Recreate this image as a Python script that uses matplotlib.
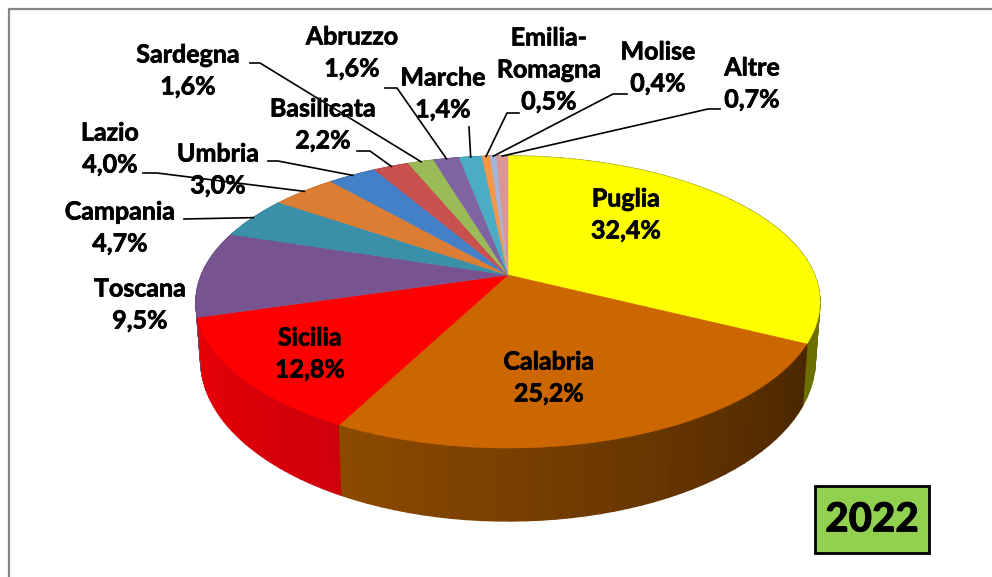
import numpy as np
import matplotlib.pyplot as plt
import matplotlib.patheffects as pe
from matplotlib.colors import to_rgb
from matplotlib.patches import Polygon, Rectangle

regions = ["Puglia", "Calabria", "Sicilia", "Toscana", "Campania", "Lazio", "Umbria",
           "Basilicata", "Sardegna", "Abruzzo", "Marche", "Emilia-\nRomagna", "Molise", "Altre"]
shares = [32.4, 25.2, 12.8, 9.5, 4.7, 4.0, 3.0, 2.2, 1.6, 1.6, 1.4, 0.5, 0.4, 0.7]
year = "2022"

top_colors = ["#FFFF00", "#CC6600", "#FF0000", "#77538F", "#3A8FA9", "#DB7D32", "#4480C8",
              "#C8504D", "#9BBB59", "#8064A2", "#4BACC6", "#F79646", "#A6B4D8", "#D99694"]
# side wall colours: start and end of each slice, going clockwise
side_start = ["#808000", "#4A2600", "#D0000A", "#6A4A80", "#33809A", "#C06D2B", "#3A70B0",
              "#B04543", "#88A44D", "#70588E", "#4297AE", "#D9843D", "#919EBE", "#BF8382"]
side_end = ["#6E6E00", "#8C4A00", "#E80005", "#5C4070", "#2C7086", "#A86026", "#33629A",
            "#9A3C3A", "#779043", "#624D7C", "#3A8498", "#BE7335", "#7F8BA6", "#A77372"]

# label centre (x, y) in pixels, and leader elbow + start
label_pos = [(626, 215), (549, 378), (310, 354), (140, 305), (120, 228), (110, 149), (218, 170),
             (323, 125), (188, 71), (352, 53), (443, 94), (549, 70), (658, 68), (752, 84)]
leader_pts = {
    "Campania": [(184, 219)],
    "Lazio": [(143, 173), (157, 173)],
    "Umbria": [(268, 161), (278, 161)],
    "Basilicata": [(357, 151), (370, 151)],
    "Sardegna": [(250, 63), (260, 63)],
    "Abruzzo": [(385, 88), (397, 88)],
    "Marche": [(469, 127)],
    "Emilia-\nRomagna": [(519, 113), (507, 113)],
    "Molise": [(627, 94), (613, 94)],
    "Altre": [(720, 109), (708, 109)],
}

cx, cy = 508, 302
rx, ry = 312, 146
tilt = 0.185  # perspective shift of the pie centre
font = ["Lato", "DejaVu Sans"]
heavier = [pe.withStroke(linewidth=0.5, foreground="black")]


def rim(theta):
    # circle -> ellipse with the apex moved up, like the 3D pie in Excel
    sx, cz = np.sin(theta), np.cos(theta)
    den = 1 + tilt * cz
    u = sx * np.sqrt(1 - tilt ** 2) / den
    v = (cz + tilt) / den
    return cx + rx * u, cy - ry * v


def lower(x, y):
    # bottom edge of the side wall below a rim point
    depth = 58 + 15 * (y - cy) / ry
    return cx + (x - cx) * 0.985, y + depth


fig = plt.figure(figsize=(9.92, 5.77), dpi=100)
ax = fig.add_axes([0, 0, 1, 1])
ax.set_xlim(0, 992)
ax.set_ylim(577, 0)
ax.axis("off")

# frame
ax.plot([8.5, 8.5, 992], [577, 8.5, 8.5], color="#858585", lw=1.6)

edges = np.cumsum([0] + shares) / 100 * 2 * np.pi
apex = (cx, cy - ry * tilt)

# side wall
quads = []
for i in range(len(shares)):
    ts = np.linspace(edges[i], edges[i + 1], 40)
    c0 = np.array(to_rgb(side_start[i]))
    c1 = np.array(to_rgb(side_end[i]))
    for j in range(len(ts) - 1):
        x0, y0 = rim(ts[j])
        x1, y1 = rim(ts[j + 1])
        col = c0 + (c1 - c0) * (j / (len(ts) - 2))
        quads.append(((y0 + y1) / 2, [(x0, y0), (x1, y1), lower(x1, y1), lower(x0, y0)], col))
for _, pts, col in sorted(quads, key=lambda q: q[0]):
    ax.add_patch(Polygon(pts, closed=True, facecolor=col, edgecolor=col, lw=1.0, zorder=2))

# top face
for i in range(len(shares)):
    ts = np.linspace(edges[i], edges[i + 1], 120)
    xs, ys = rim(ts)
    pts = [apex] + list(zip(xs, ys))
    ax.add_patch(Polygon(pts, closed=True, facecolor=top_colors[i], edgecolor=top_colors[i],
                         lw=0.4, zorder=3))

# labels
for i, name in enumerate(regions):
    text = name + "\n" + f"{shares[i]:.1f}".replace(".", ",") + "%"
    ax.text(label_pos[i][0], label_pos[i][1], text, ha="center", va="center", family=font,
            fontweight="bold", fontsize=18, linespacing=1.47, color="black", zorder=6,
            path_effects=heavier)

# leader lines end on the middle of their slice
for i, name in enumerate(regions):
    if name not in leader_pts:
        continue
    x_end, y_end = rim((edges[i] + edges[i + 1]) / 2)
    pts = leader_pts[name] + [(x_end, y_end)]
    ax.plot([p[0] for p in pts], [p[1] for p in pts], color="black", lw=1.2, zorder=5)

# year box
ax.add_patch(Rectangle((815, 486), 114, 67, facecolor="#92D050", edgecolor="black", lw=2, zorder=4))
ax.text(872, 520, year, ha="center", va="center", family=font, fontweight=900,
        fontsize=29, color="black", zorder=6, path_effects=heavier)

fig.savefig("out.png", dpi=100)
